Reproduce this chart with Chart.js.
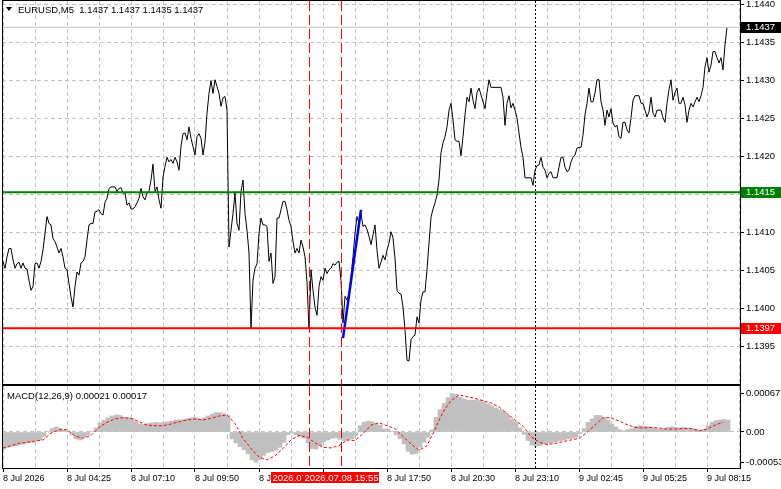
<!DOCTYPE html>
<html><head><meta charset="utf-8">
<script src="https://cdn.jsdelivr.net/npm/chart.js@4"></script>
<style>
html,body{margin:0;padding:0;background:#fff;}
#wrap{position:relative;width:781px;height:489px;overflow:hidden;background:#fff}
#c1{position:absolute;left:0;top:0}
#c2{position:absolute;left:0;top:385px}
</style></head><body>
<div id="wrap"><canvas id="c1" width="781" height="385"></canvas><canvas id="c2" width="781" height="104"></canvas></div>
<script>
// ---------- data ----------
const symbol = 'EURUSD,M5';
const ohlc = ['1.1437', '1.1437', '1.1435', '1.1437'];
const macdTitle = 'MACD(12,26,9) 0.00021 0.00017';

// close per M5 bar (bar 0 = first visible bar)
const closes = [
 1.14062,1.14053,1.14068,1.14079,1.14079,1.14064,1.14053,1.14059,1.14061,1.14053,
 1.14060,1.14053,1.14052,1.14037,1.14024,1.14029,1.14059,1.14060,1.14053,1.14062,
 1.14077,1.14099,1.14121,1.14112,1.14110,1.14092,1.14088,1.14081,1.14073,1.14079,
 1.14068,1.14053,1.14051,1.14033,1.14015,1.14002,1.14029,1.14048,1.14044,1.14060,
 1.14062,1.14068,1.14090,1.14110,1.14112,1.14112,1.14127,1.14128,1.14130,1.14125,
 1.14123,1.14140,1.14145,1.14158,1.14160,1.14160,1.14160,1.14154,1.14158,1.14159,
 1.14152,1.14152,1.14136,1.14139,1.14131,1.14131,1.14134,1.14139,1.14145,1.14158,
 1.14147,1.14143,1.14152,1.14154,1.14169,1.14190,1.14154,1.14160,1.14143,1.14132,
 1.14173,1.14187,1.14199,1.14193,1.14196,1.14191,1.14199,1.14193,1.14182,1.14213,
 1.14230,1.14231,1.14222,1.14239,1.14224,1.14213,1.14202,1.14226,1.14230,1.14224,
 1.14202,1.14219,1.14257,1.14283,1.14300,1.14283,1.14301,1.14292,1.14283,1.14266,
 1.14277,1.14279,1.14261,1.14081,1.14103,1.14125,1.14152,1.14112,1.14103,1.14154,
 1.14169,1.14125,1.14103,1.14073,1.13974,1.14037,1.14053,1.14059,1.14099,1.14119,
 1.14110,1.14110,1.14108,1.14062,1.14073,1.14033,1.14042,1.14119,1.14119,1.14130,
 1.14141,1.14141,1.14130,1.14116,1.14108,1.14088,1.14073,1.14079,1.14073,1.14090,
 1.14081,1.14068,1.14035,1.13973,1.14051,1.14024,1.14002,1.13991,1.14029,1.14042,
 1.14037,1.14053,1.14046,1.14051,1.14053,1.14059,1.14057,1.14061,1.14062,1.14037,
 1.13981,1.14016,1.14011,1.14020,1.14042,1.14068,1.14099,1.14121,1.14112,1.14125,
 1.14108,1.14110,1.14104,1.14095,1.14084,1.14097,1.14110,1.14077,1.14053,1.14061,
 1.14070,1.14064,1.14077,1.14086,1.14101,1.14093,1.14066,1.14024,1.14020,1.14019,
 1.14002,1.13972,1.13932,1.13931,1.13959,1.13963,1.13965,1.13989,1.13981,1.14011,
 1.14022,1.14022,1.14051,1.14086,1.14120,1.14131,1.14139,1.14149,1.14169,1.14205,
 1.14218,1.14226,1.14239,1.14261,1.14270,1.14248,1.14222,1.14220,1.14220,1.14201,
 1.14226,1.14255,1.14278,1.14272,1.14290,1.14274,1.14263,1.14284,1.14290,1.14281,
 1.14272,1.14263,1.14284,1.14301,1.14291,1.14291,1.14291,1.14291,1.14291,1.14291,
 1.14278,1.14241,1.14270,1.14280,1.14264,1.14270,1.14261,1.14251,1.14231,1.14212,
 1.14199,1.14172,1.14172,1.14172,1.14172,1.14162,1.14182,1.14188,1.14189,1.14199,
 1.14186,1.14182,1.14172,1.14178,1.14180,1.14172,1.14172,1.14172,1.14186,1.14199,
 1.14199,1.14186,1.14180,1.14182,1.14193,1.14199,1.14202,1.14211,1.14212,1.14212,
 1.14228,1.14255,1.14270,1.14290,1.14272,1.14272,1.14284,1.14301,1.14301,1.14272,
 1.14261,1.14241,1.14261,1.14252,1.14263,1.14244,1.14239,1.14241,1.14226,1.14224,
 1.14245,1.14245,1.14235,1.14231,1.14251,1.14274,1.14280,1.14280,1.14280,1.14270,
 1.14270,1.14261,1.14252,1.14259,1.14278,1.14257,1.14252,1.14261,1.14261,1.14261,
 1.14251,1.14245,1.14270,1.14288,1.14301,1.14274,1.14284,1.14290,1.14270,1.14270,
 1.14278,1.14268,1.14245,1.14261,1.14270,1.14265,1.14272,1.14278,1.14272,1.14280,
 1.14291,1.14318,1.14330,1.14311,1.14320,1.14338,1.14338,1.14330,1.14323,1.14330,
 1.14314,1.14347,1.14370
];

// MACD histogram, one value per 2 bars
const macdHist = [
 -0.00030,-0.00027,-0.00025,-0.00024,-0.00022,-0.00021,-0.00019,-0.00018,-0.00016,-0.00014,
 -0.00008,0.00001,0.00006,0.00009,0.00007,0.00004,0.00001,-0.00005,-0.00012,-0.00014,
 -0.00009,-0.00005,0.00001,0.00007,0.00016,0.00021,0.00025,0.00028,0.00030,0.00029,
 0.00026,0.00025,0.00023,0.00018,0.00014,0.00013,0.00015,0.00016,0.00017,0.00016,
 0.00017,0.00018,0.00019,0.00021,0.00021,0.00022,0.00024,0.00025,0.00025,0.00023,
 0.00025,0.00028,0.00031,0.00034,0.00034,0.00032,0.00029,-0.00012,-0.00019,-0.00026,
 -0.00031,-0.00038,-0.00049,-0.00053,-0.00048,-0.00041,-0.00036,-0.00034,-0.00032,-0.00027,
 -0.00018,-0.00005,-0.00002,-0.00005,-0.00008,-0.00011,-0.00019,-0.00029,-0.00030,-0.00024,
 -0.00017,-0.00014,-0.00011,-0.00010,-0.00013,-0.00015,-0.00014,-0.00012,-0.00006,0.00011,
 0.00017,0.00019,0.00018,0.00015,0.00012,0.00005,0.00005,0.00001,-0.00005,-0.00012,
 -0.00021,-0.00034,-0.00039,-0.00038,-0.00027,-0.00018,-0.00009,0.00004,0.00026,0.00039,
 0.00050,0.00060,0.00067,0.00066,0.00061,0.00058,0.00056,0.00056,0.00056,0.00055,
 0.00052,0.00049,0.00046,0.00042,0.00039,0.00036,0.00029,0.00022,0.00017,0.00007,
 -0.00004,-0.00015,-0.00023,-0.00025,-0.00024,-0.00021,-0.00019,-0.00019,-0.00017,-0.00015,
 -0.00014,-0.00012,-0.00011,-0.00009,-0.00003,0.00006,0.00017,0.00023,0.00029,0.00029,
 0.00025,0.00021,0.00014,0.00009,0.00004,0.00002,0.00004,0.00006,0.00010,0.00011,
 0.00010,0.00009,0.00007,0.00006,0.00005,0.00006,0.00008,0.00009,0.00008,0.00007,
 0.00008,0.00007,0.00006,0.00005,0.00003,0.00004,0.00011,0.00017,0.00020,0.00021,
 0.00022,0.00021
];

// MACD signal line, one value per 4 bars
const macdSignal = [
 -0.00028,-0.00024,-0.00020,-0.00018,-0.00016,-0.00014,-0.00002,0.00004,0.00004,-0.00007,
 -0.00011,-0.00006,0.00008,0.00017,0.00023,0.00025,0.00024,0.00018,0.00012,0.00011,
 0.00011,0.00014,0.00018,0.00021,0.00023,0.00021,0.00024,0.00028,0.00030,0.00015,
 -0.00011,-0.00029,-0.00044,-0.00049,-0.00042,-0.00029,-0.00014,-0.00006,-0.00009,-0.00019,
 -0.00027,-0.00028,-0.00024,-0.00014,-0.00015,-0.00003,0.00012,0.00016,0.00011,0.00006,
 -0.00008,-0.00021,-0.00032,-0.00024,0.00005,0.00035,0.00055,0.00065,0.00062,0.00059,
 0.00055,0.00051,0.00044,0.00032,0.00021,0.00010,-0.00008,-0.00018,-0.00022,-0.00020,
 -0.00017,-0.00014,-0.00011,-0.00001,0.00012,0.00025,0.00025,0.00019,0.00013,0.00008,
 0.00007,0.00008,0.00007,0.00005,0.00005,0.00006,0.00006,0.00002,0.00005,0.00012,
 0.00017
];

const timeLabels = ['8 Jul 2026','8 Jul 04:25','8 Jul 07:10','8 Jul 09:50','8 Jul 12:30','8 Jul 15:10',
                    '8 Jul 17:50','8 Jul 20:30','8 Jul 23:10','9 Jul 02:45','9 Jul 05:25','9 Jul 08:15'];
const priceTicks = [1.1395,1.1400,1.1405,1.1410,1.1415,1.1420,1.1425,1.1430,1.1435,1.1440];
const macdTicks = [-0.00053, 0, 0.00067];

const lastPrice = 1.1437;
const resistance = 1.14153, resistanceLabel = '1.1415';
const support = 1.13974, supportLabel = '1.1397';
const entry = {fromBar:170, fromPrice:1.13961, toBar:179, toPrice:1.14130};
const markerBars = [153, 169];
const markerLabels = ['2026.07.08 14:35', '2026.07.08 15:55'];
const dottedBar = 266;

// ---------- config ----------
const FONT = '"Liberation Sans", Arial, sans-serif';
Chart.defaults.font.family = FONT;
Chart.defaults.font.size = 9.5;
Chart.defaults.color = '#000';

const X_MIN = -0.5, X_MAX = 368.5, GRID_STEP = 16, LABEL_STEP = 32;
function xTicks(s){ const t=[]; for(let b=0;b<=X_MAX;b+=GRID_STEP) t.push({value:b}); s.ticks=t; }
function noPad(s){ s.paddingTop=0; s.paddingBottom=0; s.paddingLeft=0; s.paddingRight=0; }
function vline(ctx, a, px, color, dash){
  const x = Math.round(px)+0.5;
  ctx.save(); ctx.strokeStyle=color; ctx.lineWidth=1; ctx.setLineDash(dash);
  ctx.beginPath(); ctx.moveTo(x, a.top); ctx.lineTo(x, a.bottom); ctx.stroke(); ctx.restore();
}
function axisBox(ctx, a, py, bg, text){
  ctx.save();
  ctx.fillStyle = bg; ctx.fillRect(a.right+1, Math.round(py)-5, 40, 11);
  ctx.fillStyle = '#fff'; ctx.font = '9.5px '+FONT; ctx.textBaseline='middle'; ctx.textAlign='left';
  ctx.fillText(text, a.right+6, Math.round(py)+0.5);
  ctx.restore();
}

const mainDeco = {
  id:'mainDeco',
  afterDatasetsDraw(chart){
    const {ctx, chartArea:a, scales:{x,y}} = chart;
    ctx.save();
    const hl = (v,c,w)=>{ const py=y.getPixelForValue(v); ctx.strokeStyle=c; ctx.lineWidth=w; ctx.setLineDash([]);
      ctx.beginPath(); ctx.moveTo(a.left, py); ctx.lineTo(a.right, py); ctx.stroke(); };
    hl(lastPrice, '#c0c0c0', 1);
    hl(resistance, '#008000', 2);
    hl(support, '#ff0000', 2);
    ctx.restore();
    markerBars.forEach(b=>vline(ctx, a, x.getPixelForValue(b), '#ff0000', [10,4]));
    vline(ctx, a, x.getPixelForValue(dottedBar), '#000', [2,2]);
  },
  afterDraw(chart){
    const {ctx, chartArea:a, scales:{y}} = chart;
    ctx.save();
    ctx.strokeStyle='#000'; ctx.lineWidth=1; ctx.setLineDash([]);
    ctx.beginPath();
    ctx.moveTo(a.left+0.5, 0); ctx.lineTo(a.left+0.5, a.bottom+1);
    ctx.moveTo(a.left, 0.5); ctx.lineTo(a.right+1, 0.5);
    ctx.moveTo(a.left, a.bottom+0.5); ctx.lineTo(a.right+1, a.bottom+0.5);
    ctx.stroke();
    // title
    ctx.fillStyle='#000';
    ctx.beginPath(); ctx.moveTo(6,7); ctx.lineTo(12,7); ctx.lineTo(9,11); ctx.closePath(); ctx.fill();
    ctx.font='9.5px '+FONT; ctx.textBaseline='middle'; ctx.textAlign='left';
    ctx.fillText(symbol+'  '+ohlc.join(' '), 18, 10);
    ctx.restore();
    axisBox(ctx, a, y.getPixelForValue(lastPrice), '#000', lastPrice.toFixed(4));
    axisBox(ctx, a, y.getPixelForValue(resistance), '#008000', resistanceLabel);
    axisBox(ctx, a, y.getPixelForValue(support), '#ff0000', supportLabel);
  }
};

const macdDeco = {
  id:'macdDeco',
  afterDatasetsDraw(chart){
    const {ctx, chartArea:a, scales:{x}} = chart;
    markerBars.forEach(b=>vline(ctx, a, x.getPixelForValue(b), '#ff0000', [10,4]));
    vline(ctx, a, x.getPixelForValue(dottedBar), '#000', [2,2]);
  },
  afterDraw(chart){
    const {ctx, chartArea:a, scales:{x}} = chart;
    ctx.save();
    ctx.strokeStyle='#000'; ctx.lineWidth=1;
    ctx.beginPath();
    ctx.moveTo(a.left+0.5, 0); ctx.lineTo(a.left+0.5, a.bottom+1);
    ctx.moveTo(a.left, 0.5); ctx.lineTo(a.right+1, 0.5);
    ctx.stroke();
    ctx.fillStyle='#000'; ctx.font='9.5px '+FONT; ctx.textBaseline='middle'; ctx.textAlign='left';
    ctx.fillText(macdTitle, 7, 11);
    // marker labels on time axis
    ctx.font='9.5px '+FONT;
    markerBars.forEach((b,i)=>{
      const px = Math.round(x.getPixelForValue(b));
      const w = ctx.measureText(markerLabels[i]).width + 2;
      ctx.fillStyle='#ff0000'; ctx.fillRect(px - w/2, a.bottom+4, w, 11);
      ctx.fillStyle='#fff'; ctx.textAlign='center'; ctx.fillText(markerLabels[i], px+0.5, a.bottom+10);
    });
    ctx.restore();
  }
};

new Chart(document.getElementById('c1'), {
  type:'line',
  data:{datasets:[
    {data: closes.map((v,i)=>({x:i,y:v})), borderColor:'#000', borderWidth:1, pointRadius:0, tension:0, order:2},
    {data:[{x:entry.fromBar,y:entry.fromPrice},{x:entry.toBar,y:entry.toPrice}], borderColor:'#0000ff', borderWidth:2.5, pointRadius:0, order:1}
  ]},
  options:{
    responsive:false, devicePixelRatio:1, animation:false,
    layout:{padding:{left:2, top:1, right:0, bottom:1}},
    plugins:{legend:{display:false}, tooltip:{enabled:false}},
    scales:{
      x:{type:'linear', min:X_MIN, max:X_MAX, afterBuildTicks:xTicks,
         ticks:{display:false}, grid:{color:'#c0c0c0', drawTicks:false},
         border:{display:false, dash:[4,3]}, afterFit:s=>{ s.height=0; noPad(s); }},
      y:{type:'linear', position:'right', min:1.139007, max:1.144046,
         afterBuildTicks:s=>{ s.ticks = priceTicks.map(v=>({value:v})); },
         ticks:{callback:v=>Number(v).toFixed(4), padding:2, font:{size:9.5}},
         grid:{color:'#c0c0c0', tickColor:'#000', tickLength:4},
         border:{display:true, color:'#000', dash:[4,3]},
         afterFit:s=>{ s.width=41; noPad(s); }}
    }
  },
  plugins:[mainDeco]
});

new Chart(document.getElementById('c2'), {
  type:'bar',
  data:{datasets:[
    {type:'line', data: macdSignal.map((v,m)=>({x:4*m,y:v})), borderColor:'#ff0000', borderWidth:1, borderDash:[3,2], pointRadius:0, tension:0, order:1},
    {type:'bar', data: macdHist.map((v,k)=>({x:2*k+0.5,y:v})), backgroundColor:'#c0c0c0', barThickness:4, borderWidth:0, order:2}
  ]},
  options:{
    responsive:false, devicePixelRatio:1, animation:false,
    layout:{padding:{left:2, top:1, right:0, bottom:0}},
    plugins:{legend:{display:false}, tooltip:{enabled:false}},
    scales:{
      x:{type:'linear', min:X_MIN, max:X_MAX, offset:false, afterBuildTicks:xTicks,
         ticks:{autoSkip:false, maxRotation:0, minRotation:0, align:'start', padding:1, font:{size:9},
                callback:v=> (v % LABEL_STEP === 0 ? (timeLabels[v/LABEL_STEP] || '') : '')},
         grid:{color:'#c0c0c0', offset:false, tickLength:4,
               tickColor:c=> (c.tick && c.tick.value % LABEL_STEP === 0) ? '#000' : 'rgba(0,0,0,0)'},
         border:{display:true, color:'#000', dash:[4,3]},
         afterFit:s=>{ s.height=21; noPad(s); }},
      y:{type:'linear', position:'right', min:-0.000632, max:0.000807,
         afterBuildTicks:s=>{ s.ticks = macdTicks.map(v=>({value:v})); },
         ticks:{callback:v=> v===0 ? '0.00' : Number(v).toFixed(5), padding:2, font:{size:9.5}},
         grid:{color:c=> (c.tick && c.tick.value===0) ? '#c0c0c0' : 'rgba(0,0,0,0)', tickColor:'#000', tickLength:4},
         border:{display:true, color:'#000', dash:[4,3]},
         afterFit:s=>{ s.width=41; noPad(s); }}
    }
  },
  plugins:[macdDeco]
});
</script>
</body></html>
